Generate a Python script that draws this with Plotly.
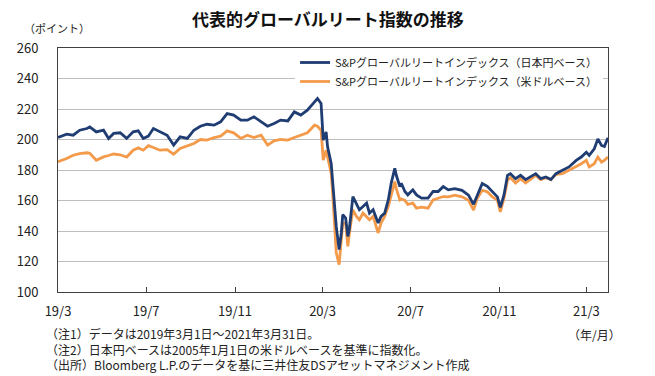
import plotly.graph_objects as go

dates = [
    "2019-03-01", "2019-03-13", "2019-03-22", "2019-03-31", "2019-04-10", "2019-04-14", "2019-04-23",
    "2019-05-03", "2019-05-10", "2019-05-17", "2019-05-26", "2019-06-04", "2019-06-13", "2019-06-20",
    "2019-06-27", "2019-07-04", "2019-07-11", "2019-07-20", "2019-07-30", "2019-08-08", "2019-08-17",
    "2019-08-27", "2019-09-05", "2019-09-14", "2019-09-23", "2019-10-03", "2019-10-12", "2019-10-21",
    "2019-10-30", "2019-11-09", "2019-11-18", "2019-11-27", "2019-12-07", "2019-12-16", "2019-12-25",
    "2020-01-03", "2020-01-13", "2020-01-22", "2020-01-31", "2020-02-09", "2020-02-19", "2020-02-23",
    "2020-02-28", "2020-03-02", "2020-03-06", "2020-03-08", "2020-03-13", "2020-03-15", "2020-03-18",
    "2020-03-20", "2020-03-24", "2020-03-27", "2020-03-29", "2020-04-02", "2020-04-05", "2020-04-07",
    "2020-04-12", "2020-04-17", "2020-04-21", "2020-04-26", "2020-05-01", "2020-05-05", "2020-05-10",
    "2020-05-17", "2020-05-21", "2020-05-26", "2020-05-31", "2020-06-04", "2020-06-09", "2020-06-11",
    "2020-06-16", "2020-06-18", "2020-06-23", "2020-06-27", "2020-07-04", "2020-07-09", "2020-07-16",
    "2020-07-25", "2020-08-01", "2020-08-08", "2020-08-15", "2020-08-22", "2020-08-31", "2020-09-10",
    "2020-09-19", "2020-09-26", "2020-10-01", "2020-10-08", "2020-10-15", "2020-10-22", "2020-10-29",
    "2020-11-02", "2020-11-07", "2020-11-12", "2020-11-16", "2020-11-23", "2020-11-30", "2020-12-07",
    "2020-12-14", "2020-12-21", "2020-12-28", "2021-01-04", "2021-01-11", "2021-01-18", "2021-01-27",
    "2021-02-05", "2021-02-15", "2021-02-22", "2021-03-01", "2021-03-05", "2021-03-12", "2021-03-17",
    "2021-03-22", "2021-03-26", "2021-03-31",
]

jpy_base = [
    201.3, 203.5, 202.8, 206.1, 207.2, 208.3, 205.0,
    206.1, 200.7, 204.0, 204.4, 200.7, 205.0, 205.7,
    200.7, 202.2, 207.2, 205.0, 202.8, 196.3, 201.7,
    200.7, 206.1, 208.7, 210.0, 209.4, 211.6, 217.0,
    216.0, 212.7, 212.7, 214.9, 211.6, 208.7, 210.5,
    212.7, 212.2, 218.1, 216.0, 219.2, 224.7, 226.9,
    223.6, 199.6, 205.0, 195.2, 184.3, 173.5, 158.3,
    143.0, 127.8, 138.7, 150.7, 148.5, 136.5, 140.9,
    162.6, 158.3, 153.9, 156.1, 158.3, 151.7, 153.9,
    145.2, 149.6, 151.7, 160.4, 171.3, 181.1, 176.7,
    169.1, 171.3, 165.9, 163.7, 167.0, 163.7, 161.5,
    161.5, 165.9, 165.9, 169.1, 167.0, 167.8, 166.7,
    163.5, 157.5, 163.5, 171.1, 169.3, 165.7, 162.4,
    155.5, 163.5, 176.5, 177.6, 174.3, 176.5, 173.7,
    175.4, 177.6, 174.3, 175.4, 173.7, 177.6, 179.8,
    182.0, 186.3, 188.5, 191.7, 189.6, 193.9, 200.4,
    196.1, 195.4, 201.1,
]

usd_base = [
    185.4, 187.5, 189.7, 190.8, 191.3, 191.0, 186.4,
    188.6, 189.5, 190.5, 190.0, 188.5, 193.0, 194.5,
    193.0, 196.0, 194.8, 193.0, 193.4, 190.4, 194.1,
    195.6, 197.4, 200.0, 199.6, 201.3, 202.2, 205.7,
    204.4, 200.7, 202.8, 201.3, 202.8, 196.3, 199.1,
    200.0, 199.6, 201.3, 202.8, 204.4, 209.4, 208.7,
    206.1, 186.5, 193.0, 188.7, 177.8, 165.0, 143.0,
    125.7, 118.0, 134.3, 145.0, 145.2, 130.0, 138.0,
    153.9, 149.6, 147.4, 151.7, 149.6, 147.4, 149.6,
    138.7, 145.2, 149.6, 156.1, 163.7, 172.4, 168.0,
    160.4, 161.0, 160.0, 157.5, 158.3, 155.0, 155.7,
    155.0, 160.4, 161.5, 162.6, 162.4, 163.5, 162.4,
    160.2, 153.7, 161.3, 166.7, 165.7, 162.4, 160.2,
    152.6, 161.3, 173.3, 175.0, 171.5, 174.3, 171.5,
    174.3, 176.5, 173.7, 175.0, 173.7, 177.2, 177.6,
    179.8, 182.4, 184.1, 186.3, 182.0, 184.1, 188.5,
    185.2, 186.3, 188.5,
]

tick_dates = ["2019-03-01", "2019-07-01", "2019-11-01", "2020-03-01",
              "2020-07-01", "2020-11-01", "2021-03-01"]
tick_labels = ["19/3", "19/7", "19/11", "20/3", "20/7", "20/11", "21/3"]
y_ticks = [100, 120, 140, 160, 180, 200, 220, 240, 260]

series_names = ["S&Pグローバルリートインデックス（日本円ベース）",
                "S&Pグローバルリートインデックス（米ドルベース）"]

title_text = "代表的グローバルリート指数の推移"
y_unit = "（ポイント）"
x_unit = "（年/月）"
notes = ["（注1）データは2019年3月1日～2021年3月31日。",
         "（注2）日本円ベースは2005年1月1日の米ドルベースを基準に指数化。",
         "（出所）Bloomberg L.P.のデータを基に三井住友DSアセットマネジメント作成"]

FONT = "Noto Sans CJK JP, Noto Sans, sans-serif"
BLUE = "#1f3d72"
ORANGE = "#f39a4b"
AXIS = "#404040"

fig = go.Figure()
fig.add_trace(go.Scatter(x=dates, y=usd_base, mode="lines", name=series_names[1],
                         line=dict(color=ORANGE, width=2.8)))
fig.add_trace(go.Scatter(x=dates, y=jpy_base, mode="lines", name=series_names[0],
                         line=dict(color=BLUE, width=2.8)))

fig.update_layout(
    width=655, height=376,
    margin=dict(l=58, r=47, t=48, b=84),
    paper_bgcolor="white", plot_bgcolor="white",
    font=dict(family=FONT, size=12, color="#222222"),
    showlegend=True,
    legend=dict(x=0.431, y=1.0, xanchor="left", yanchor="top",
                bgcolor="white", borderwidth=0,
                font=dict(size=11, color="#222222"),
                traceorder="reversed", tracegroupgap=0),
    xaxis=dict(
        type="date", range=["2019-03-01", "2021-03-31"],
        tickvals=tick_dates, ticktext=tick_labels,
        ticks="inside", ticklen=5, tickcolor=AXIS, tickwidth=1,
        showline=True, linecolor=AXIS, linewidth=1, mirror=True,
        showgrid=False, zeroline=False,
        tickfont=dict(size=13, color="#222222"),
        ticklabelstandoff=7,
    ),
    yaxis=dict(
        range=[100, 260], tickvals=y_ticks,
        ticks="", showline=True, linecolor=AXIS, linewidth=1, mirror=True,
        showgrid=True, gridcolor="#bdbdbd", gridwidth=1, zeroline=False,
        tickfont=dict(size=13, color="#222222"),
        ticklabelstandoff=16,
    ),
)

fig.add_annotation(text="<b>" + title_text + "</b>", xref="paper", yref="paper",
                   x=0.49, y=1.0, yshift=30, xanchor="center", yanchor="middle",
                   showarrow=False, font=dict(size=17, color="#111111"))
fig.add_annotation(text=y_unit, xref="paper", yref="paper",
                   x=0, xshift=-36, y=1.0, yshift=20, xanchor="left", yanchor="middle",
                   showarrow=False, font=dict(size=11, color="#222222"))
fig.add_annotation(text=x_unit, xref="paper", yref="paper",
                   x=1.0, xshift=15, y=0, yshift=-42, xanchor="right", yanchor="middle",
                   showarrow=False, font=dict(size=12, color="#222222"))
fig.add_annotation(text="<br>".join(notes), xref="paper", yref="paper",
                   x=0, xshift=-14, y=0, yshift=-31, align="left",
                   xanchor="left", yanchor="top",
                   showarrow=False, font=dict(size=12, color="#222222"))

fig.write_html("out.html", config={"displayModeBar": False},
               post_script="document.body.style.margin='0px';")
